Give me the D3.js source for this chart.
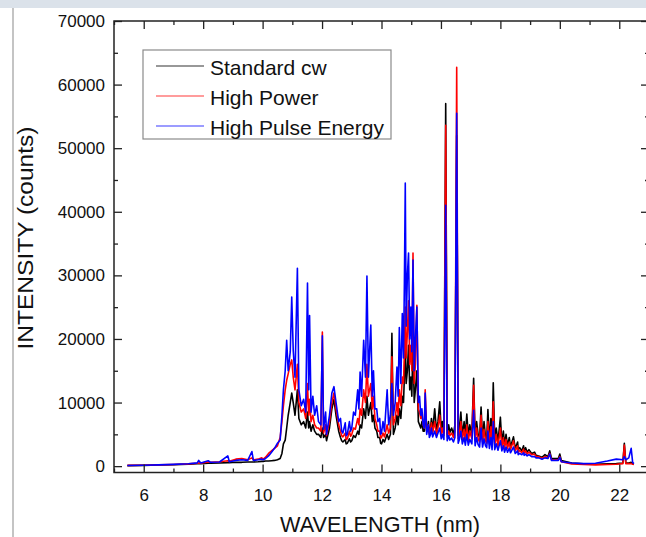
<!DOCTYPE html>
<html>
<head>
<meta charset="utf-8">
<script src="https://cdn.jsdelivr.net/npm/d3@7/dist/d3.min.js"></script>
<style>
  body { margin: 0; background: #fff; }
  svg text { font-family: "Liberation Sans", Arial, sans-serif; fill: #111; }
</style>
</head>
<body>
<script>
// spectrum (wavelength in nm, intensity in counts)
var wavelength = [
  5.45, 6.0, 6.5, 7.0, 7.5, 7.8, 7.85, 7.92, 8.17, 8.25,
  8.55, 8.83, 8.88, 9.1, 9.3, 9.5, 9.64, 9.69, 9.85, 9.97,
  10.02, 10.1, 10.2, 10.3, 10.4, 10.5, 10.59, 10.65, 10.7, 10.76,
  10.81, 10.86, 10.93, 10.98, 11.03, 11.09, 11.17, 11.22, 11.3, 11.38,
  11.45, 11.51, 11.55, 11.58, 11.63, 11.69, 11.75, 11.82, 11.88, 11.96,
  12.01, 12.05, 12.12, 12.15, 12.25, 12.33, 12.4, 12.47, 12.56, 12.62,
  12.66, 12.7, 12.78, 12.81, 12.85, 12.92, 12.96, 13.0, 13.06, 13.12,
  13.2, 13.24, 13.28, 13.33, 13.4, 13.46, 13.51, 13.56, 13.64, 13.69,
  13.73, 13.78, 13.84, 13.88, 13.94, 13.97, 14.0, 14.05, 14.1, 14.19,
  14.24, 14.3, 14.35, 14.4, 14.46, 14.52, 14.56, 14.6, 14.65, 14.7,
  14.74, 14.77, 14.8, 14.83, 14.87, 14.91, 14.95, 14.99, 15.02, 15.06,
  15.1, 15.14, 15.19, 15.24, 15.28, 15.32, 15.36, 15.4, 15.44, 15.47,
  15.52, 15.58, 15.61, 15.65, 15.68, 15.72, 15.79, 15.85, 15.9, 15.96,
  16.01, 16.05, 16.1, 16.16, 16.21, 16.26, 16.3, 16.36, 16.42, 16.47,
  16.53, 16.58, 16.62, 16.67, 16.72, 16.78, 16.82, 16.87, 16.92, 16.97,
  17.04, 17.1, 17.15, 17.2, 17.25, 17.3, 17.35, 17.4, 17.45, 17.5,
  17.54, 17.58, 17.63, 17.68, 17.72, 17.76, 17.81, 17.86, 17.92, 18.0,
  18.05, 18.1, 18.14, 18.19, 18.24, 18.3, 18.34, 18.44, 18.5, 18.58,
  18.6, 18.65, 18.72, 18.78, 18.8, 18.85, 18.9, 18.96, 19.05, 19.15,
  19.2, 19.29, 19.4, 19.5, 19.6, 19.66, 19.72, 19.95, 20.0, 20.05,
  20.4, 20.8, 21.2, 21.6, 21.9, 22.12, 22.17, 22.22, 22.32, 22.4,
  22.45, 22.49
];
var standardCw = [
  80, 120, 180, 230, 300, 380, 400, 400, 450, 450,
  500, 550, 550, 600, 600, 650, 650, 650, 700, 750,
  750, 800, 800, 850, 900, 1000, 1200, 2000, 3500, 4100,
  6000, 8000, 10000, 11500, 10000, 8000, 12000, 7500, 6500, 7000,
  6000, 8500, 6000, 7000, 5500, 6500, 5500, 5000, 5000, 4500,
  6000, 4500, 5000, 4000, 6000, 9000, 10500, 8000, 5500, 4500,
  4000, 3800, 4200, 3500, 3600, 4300, 3800, 4000, 4800, 4500,
  5500, 5000, 6500, 6000, 9000, 7500, 11000, 8000, 10000, 7000,
  8000, 6000, 5500, 4500, 4500, 3600, 3500, 4200, 3800, 5000,
  4200, 5000, 20900, 5000, 6000, 8000, 6500, 9000, 7500, 11000,
  10000, 14000, 20000, 13000, 15000, 19000, 12000, 14000, 11000, 20000,
  10000, 12000, 15000, 7000, 6500, 6000, 7000, 5500, 5500, 9000,
  5500, 7000, 5200, 6000, 7500, 5500, 9000, 5500, 7000, 10100,
  5500, 7000, 5200, 57000, 5000, 6500, 5300, 6000, 5000, 6500,
  52000, 4800, 6000, 8500, 4800, 7000, 4600, 8200, 4800, 6500,
  5000, 13800, 4500, 7000, 5000, 4500, 9300, 4200, 7000, 4500,
  4200, 8900, 4000, 7500, 3800, 13100, 4000, 6000, 3800, 7700,
  3500, 5500, 3300, 5000, 3200, 4500, 3000, 4600, 2800, 3800,
  2600, 2900, 2400, 3200, 2300, 2900, 2200, 2600, 2000, 2200,
  1700, 1600, 1400, 1800, 1500, 2400, 1200, 1200, 1900, 900,
  500, 350, 300, 350, 400, 500, 3600, 500, 500, 600,
  400, 300
];
var highPower = [
  120, 150, 200, 260, 350, 450, 500, 480, 650, 600,
  700, 850, 750, 1100, 1200, 1000, 1300, 1000, 1100, 1300,
  1100, 1400, 2000, 2400, 2800, 3200, 4500, 7000, 9500, 12000,
  13500, 14500, 16000, 16700, 14000, 12000, 16000, 10000, 8500, 9000,
  7500, 13000, 8000, 10500, 7000, 8000, 6500, 6000, 6000, 5500,
  21100, 5200, 6500, 4800, 7000, 10000, 11500, 9000, 6500, 5500,
  4800, 4600, 5200, 4200, 4300, 5500, 4700, 5000, 6000, 5800,
  7500, 6500, 9000, 8000, 12000, 10000, 16000, 11000, 13000, 9000,
  11000, 7500, 6500, 5500, 5500, 4400, 4500, 5200, 4600, 6500,
  5200, 6000, 17200, 6500, 7500, 10000, 8000, 12000, 9500, 14000,
  13000, 18000, 25000, 17000, 21000, 26000, 16000, 19000, 15000, 33500,
  13000, 16000, 25300, 9000, 8500, 7500, 8000, 6500, 6000, 12000,
  5500, 6500, 5000, 5800, 6800, 5200, 7000, 5000, 6000, 8000,
  5000, 6000, 4800, 53600, 4600, 5500, 4800, 5200, 4500, 5500,
  62700, 4300, 5000, 7000, 4200, 5800, 4000, 6500, 4000, 5500,
  4300, 12700, 4000, 6000, 4300, 3800, 8000, 3800, 5800, 4000,
  3600, 7000, 3500, 6200, 3200, 10100, 3200, 5000, 3100, 6000,
  3000, 4500, 2800, 4200, 2800, 3800, 2600, 4000, 2400, 3200,
  2200, 2500, 2100, 2700, 2000, 2400, 1900, 2200, 1800, 1900,
  1500, 1500, 1200, 1500, 1300, 2000, 1000, 1000, 1500, 700,
  350, 250, 200, 250, 300, 400, 3300, 400, 400, 400,
  300, 250
];
var highPulseEnergy = [
  100, 130, 200, 280, 380, 520, 900, 500, 850, 600,
  650, 1600, 700, 900, 1000, 900, 2300, 900, 1000, 1100,
  1000, 1200, 1600, 2200, 2800, 3600, 4100, 8000, 12000, 15000,
  19800, 15000, 18000, 26600, 18200, 14000, 31100, 12000, 9500, 10500,
  8500, 28800, 12000, 23700, 8500, 11000, 8000, 9500, 7000, 6500,
  20500, 5800, 8500, 5000, 8000, 11500, 12500, 10000, 7000, 7500,
  5500, 5200, 6800, 4800, 5000, 7000, 5500, 6000, 8500, 8000,
  12000, 9000, 14800, 11000, 19800, 14000, 29900, 14000, 22200, 11000,
  15000, 9000, 9000, 7000, 7500, 5000, 5200, 7000, 5500, 12000,
  6500, 8000, 13000, 8000, 10000, 15600, 11000, 21800, 13000, 24000,
  17000, 28800, 44500, 22000, 30000, 33500, 20000, 25000, 18000, 32400,
  15000, 20000, 25000, 10000, 11000, 8000, 9000, 6500, 6000, 11500,
  5000, 6500, 4500, 5000, 6000, 4600, 5500, 4500, 5200, 6000,
  4300, 5000, 4200, 41000, 4000, 4800, 4100, 4400, 3800, 4500,
  55500, 3600, 4200, 5500, 3500, 4500, 3300, 5000, 3300, 4200,
  3500, 8800, 3200, 4500, 3400, 3000, 6000, 3000, 4300, 3200,
  2900, 5500, 2800, 4500, 2600, 7000, 2600, 3500, 2500, 4000,
  2400, 3200, 2200, 3000, 2200, 2800, 2100, 3000, 2000, 2400,
  1800, 2000, 1800, 2100, 1700, 1900, 1600, 1800, 1500, 1500,
  1300, 1300, 1100, 1300, 1200, 1900, 900, 900, 1400, 700,
  500, 400, 450, 800, 1100, 1000, 1500, 1000, 1300, 2800,
  600, 400
];

var seriesNames = ["Standard cw", "High Power", "High Pulse Energy"];
var seriesColors = ["#000000", "#ff0000", "#0000ff"];
var legendColors = ["#333333", "#ff3a3a", "#3a3aff"];

var xTicks = [6, 8, 10, 12, 14, 16, 18, 20, 22];
var xMinor = [5, 7, 9, 11, 13, 15, 17, 19, 21, 23];
var yTicks = [0, 10000, 20000, 30000, 40000, 50000, 60000, 70000];
var yMinor = [5000, 15000, 25000, 35000, 45000, 55000, 65000];

var w = 646, h = 537;
var plotLeft = 114, plotRight = 649, plotTop = 21, plotBottom = 472.5;

var svg = d3.select("body").append("svg")
    .attr("width", w)
    .attr("height", h);

// screenshot chrome: top band and left rule
svg.append("rect").attr("x", 0).attr("y", 0).attr("width", w).attr("height", 8).attr("fill", "#dbe2ea");
svg.append("rect").attr("x", 12).attr("y", 8).attr("width", 2).attr("height", h - 8).attr("fill", "#c4c4c4");

var xScale = d3.scaleLinear().domain([5, 23]).range([plotLeft, plotRight]);
var yScale = d3.scaleLinear().domain([-1000, 70000]).range([plotBottom, plotTop]);

svg.append("clipPath").attr("id", "plot")
  .append("rect")
    .attr("x", plotLeft).attr("y", plotTop)
    .attr("width", plotRight - plotLeft).attr("height", plotBottom - plotTop);

var series = [standardCw, highPower, highPulseEnergy];

var line = d3.line()
    .x(function(d, i) { return xScale(wavelength[i]); })
    .y(function(d) { return yScale(d); });

svg.append("g")
    .attr("clip-path", "url(#plot)")
  .selectAll("path")
  .data(series)
  .enter().append("path")
    .attr("d", line)
    .attr("fill", "none")
    .attr("stroke", function(d, i) { return seriesColors[i]; })
    .attr("stroke-width", 1.6)
    .attr("stroke-linejoin", "round");

// axes, ticks point inwards on all four sides
function cleanAxis(g) {
  g.select(".domain").remove();
  g.selectAll(".tick line").attr("stroke", "#222").attr("stroke-width", 1.3);
  g.selectAll("text").attr("font-size", "17px").attr("fill", "#111");
}

svg.append("g")
    .attr("transform", "translate(0," + plotBottom + ")")
    .call(d3.axisBottom(xScale).tickValues(xTicks).tickSize(-8).tickPadding(16).tickFormat(d3.format("d")))
    .call(cleanAxis);
svg.append("g")
    .attr("transform", "translate(0," + plotBottom + ")")
    .call(d3.axisBottom(xScale).tickValues(xMinor).tickSize(-4).tickFormat(""))
    .call(cleanAxis);
svg.append("g")
    .attr("transform", "translate(0," + plotTop + ")")
    .call(d3.axisTop(xScale).tickValues(xTicks).tickSize(-8).tickFormat(""))
    .call(cleanAxis);
svg.append("g")
    .attr("transform", "translate(0," + plotTop + ")")
    .call(d3.axisTop(xScale).tickValues(xMinor).tickSize(-4).tickFormat(""))
    .call(cleanAxis);

svg.append("g")
    .attr("transform", "translate(" + plotLeft + ",0)")
    .call(d3.axisLeft(yScale).tickValues(yTicks).tickSize(-8).tickPadding(9).tickFormat(d3.format("d")))
    .call(cleanAxis);
svg.append("g")
    .attr("transform", "translate(" + plotLeft + ",0)")
    .call(d3.axisLeft(yScale).tickValues(yMinor).tickSize(-4).tickFormat(""))
    .call(cleanAxis);
svg.append("g")
    .attr("transform", "translate(" + plotRight + ",0)")
    .call(d3.axisRight(yScale).tickValues(yTicks).tickSize(-8).tickFormat(""))
    .call(cleanAxis);
svg.append("g")
    .attr("transform", "translate(" + plotRight + ",0)")
    .call(d3.axisRight(yScale).tickValues(yMinor).tickSize(-4).tickFormat(""))
    .call(cleanAxis);

// frame
svg.append("rect")
    .attr("x", plotLeft).attr("y", plotTop)
    .attr("width", plotRight - plotLeft).attr("height", plotBottom - plotTop)
    .attr("fill", "none")
    .attr("stroke", "#222")
    .attr("stroke-width", 1.5);

// axis titles
svg.append("text")
    .attr("x", 380)
    .attr("y", 532)
    .attr("text-anchor", "middle")
    .attr("font-size", "22px")
    .attr("textLength", 200)
    .attr("lengthAdjust", "spacingAndGlyphs")
    .text("WAVELENGTH  (nm)");

svg.append("text")
    .attr("transform", "translate(33,238) rotate(-90)")
    .attr("text-anchor", "middle")
    .attr("font-size", "22px")
    .attr("textLength", 223)
    .attr("lengthAdjust", "spacingAndGlyphs")
    .text("INTENSITY  (counts)");

// legend
var legend = svg.append("g");
legend.append("rect")
    .attr("x", 143).attr("y", 50)
    .attr("width", 248).attr("height", 89)
    .attr("fill", "#fff")
    .attr("stroke", "#8a8a8a")
    .attr("stroke-width", 1.2);

var item = legend.selectAll(".item")
    .data(seriesNames)
  .enter().append("g")
    .attr("class", "item")
    .attr("transform", function(d, i) { return "translate(0," + (66 + i * 30) + ")"; });

item.append("line")
    .attr("x1", 156).attr("x2", 204)
    .attr("stroke", function(d, i) { return legendColors[i]; })
    .attr("stroke-width", 1.2);

item.append("text")
    .attr("x", 210)
    .attr("y", 9)
    .attr("font-size", "21px")
    .text(function(d) { return d; });
</script>
</body>
</html>
